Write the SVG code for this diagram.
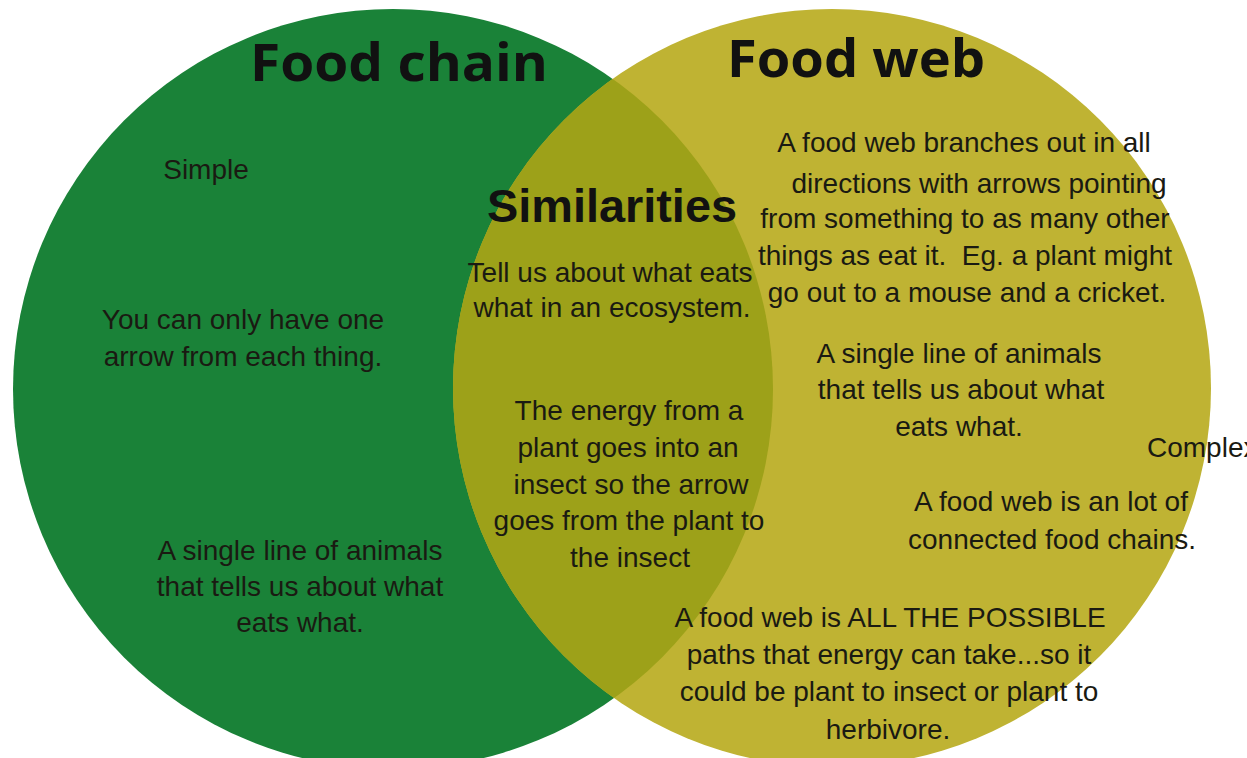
<svg xmlns="http://www.w3.org/2000/svg" width="1247" height="758" viewBox="0 0 1247 758">
  <style>
    .body { font-family: "Liberation Sans", Arial, sans-serif; font-size: 28px; fill: #1a1a12; text-anchor: middle; }
    .title { font-family: "Open Sans", "Liberation Sans", sans-serif; font-weight: bold; font-size: 52px; fill: #111; }
    .sub { font-family: "Liberation Sans", Arial, sans-serif; font-weight: bold; font-size: 47px; fill: #111; }
  </style>
  <defs>
    <clipPath id="clipWeb">
      <circle cx="832" cy="388" r="379"/>
    </clipPath>
  </defs>
  <rect width="1247" height="758" fill="#ffffff"/>

  <g id="food-chain">
    <circle cx="393" cy="389" r="380" fill="#1a8238"/>
  </g>
  <g id="food-web">
    <circle cx="832" cy="388" r="379" fill="#bfb333"/>
  </g>
  <g id="similarities">
    <circle cx="393" cy="389" r="380" fill="#9da119" clip-path="url(#clipWeb)"/>
  </g>

  <g id="food-chain-text">
    <text class="title" x="250" y="81" textLength="298" lengthAdjust="spacingAndGlyphs">Food chain</text>
    <text class="body" x="206" y="179">Simple</text>
    <text class="body" x="243" y="329">You can only have one</text>
    <text class="body" x="243" y="366">arrow from each thing.</text>
    <text class="body" x="300" y="560">A single line of animals</text>
    <text class="body" x="300" y="596">that tells us about what</text>
    <text class="body" x="300" y="632">eats what.</text>
  </g>

  <g id="similarities-text">
    <text class="sub" x="487" y="222" textLength="250" lengthAdjust="spacingAndGlyphs">Similarities</text>
    <text class="body" x="610" y="282">Tell us about what eats</text>
    <text class="body" x="612" y="317">what in an ecosystem.</text>
    <text class="body" x="629" y="420">The energy from a</text>
    <text class="body" x="628" y="457">plant goes into an</text>
    <text class="body" x="631" y="494">insect so the arrow</text>
    <text class="body" x="629" y="530">goes from the plant to</text>
    <text class="body" x="630" y="567">the insect</text>
  </g>

  <g id="food-web-text">
    <text class="title" x="727" y="77" textLength="258" lengthAdjust="spacingAndGlyphs">Food web</text>
    <text class="body" x="964" y="152">A food web branches out in all</text>
    <text class="body" x="979" y="193">directions with arrows pointing</text>
    <text class="body" x="965" y="228">from something to as many other</text>
    <text class="body" x="965" y="265">things as eat it.&#160; Eg. a plant might</text>
    <text class="body" x="967" y="302">go out to a mouse and a cricket.</text>
    <text class="body" x="959" y="363">A single line of animals</text>
    <text class="body" x="961" y="399">that tells us about what</text>
    <text class="body" x="959" y="436">eats what.</text>
    <text class="body" x="1147" y="457" style="text-anchor:start">Complex</text>
    <text class="body" x="1051" y="511">A food web is an lot of</text>
    <text class="body" x="1052" y="549">connected food chains.</text>
    <text class="body" x="890" y="627">A food web is ALL THE POSSIBLE</text>
    <text class="body" x="889" y="664">paths that energy can take...so it</text>
    <text class="body" x="889" y="701">could be plant to insect or plant to</text>
    <text class="body" x="888" y="739">herbivore.</text>
  </g>
</svg>
